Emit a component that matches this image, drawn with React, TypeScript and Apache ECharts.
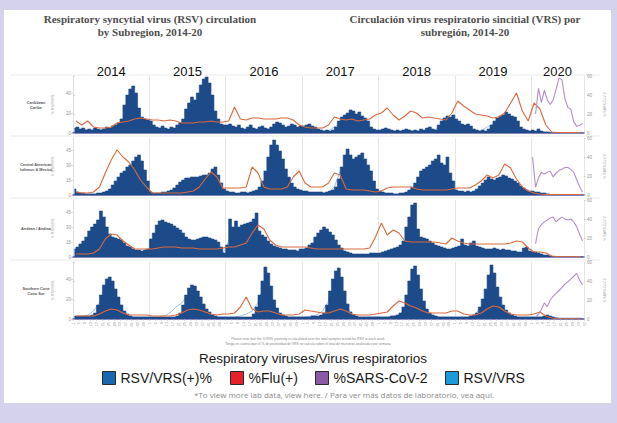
import React, { useEffect, useRef } from 'react';
import * as echarts from 'echarts';

// ---- labels ----
const years = ['2014', '2015', '2016', '2017', '2018', '2019', '2020'];
const yearMidWeeks = [26, 78, 130, 182, 234, 286, 330];
const subregions = ['Caribbean\nCaribe', 'Central American\nIsthmus & Mexico', 'Andean / Andina', 'Southern Cone\nCono Sur'];

// ---- RSV % positivity, two-week bins, 2014 week 1 .. 2020 week 36 ----
const rsvCaribbean = [
  5, 6, 4, 5, 3, 4, 3, 5, 4, 3, 4, 6, 5, 7, 8, 10, 14, 28, 38, 44, 47, 40, 25, 16, 14, 13,
  12, 8, 6, 5, 7, 5, 4, 6, 5, 8, 10, 14, 24, 30, 36, 33, 40, 48, 54, 56, 50, 38, 22, 14, 9, 8,
  8, 9, 7, 6, 8, 5, 4, 6, 8, 5, 4, 6, 7, 5, 4, 6, 9, 11, 10, 8, 6, 7, 9, 8, 6, 7,
  7, 8, 9, 7, 6, 4, 3, 2, 3, 2, 3, 6, 12, 16, 18, 20, 23, 22, 19, 21, 17, 15, 12, 6, 4, 3,
  3, 4, 5, 4, 3, 2, 3, 2, 3, 4, 3, 2, 3, 2, 4, 3, 5, 6, 4, 3, 8, 12, 15, 17, 16, 18,
  14, 12, 9, 8, 9, 7, 4, 3, 2, 3, 2, 4, 8, 12, 15, 17, 18, 21, 19, 17, 16, 12, 6, 4, 3, 2,
  3, 2, 4, 2, 1, 1, 0.5, 0.5, 0.3, 0.2, 0.2, 0.2, 0.2, 0.2, 0.1, 0.1, 0.1, 0.1,
];
const rsvCentral = [
  6, 3, 2, 2, 1, 1, 1, 1, 2, 2, 3, 4, 6, 10, 14, 18, 22, 24, 28, 30, 34, 38, 40, 34, 25, 14,
  3, 2, 2, 2, 3, 3, 4, 5, 7, 10, 13, 15, 17, 17, 18, 18, 18, 19, 20, 20, 22, 26, 28, 20, 12, 6,
  4, 3, 3, 2, 2, 3, 3, 2, 3, 4, 5, 8, 14, 24, 38, 50, 55, 50, 44, 36, 26, 18, 12, 8, 6, 5,
  4, 4, 3, 3, 3, 3, 3, 2, 3, 4, 5, 8, 16, 28, 40, 46, 40, 36, 38, 40, 42, 36, 30, 24, 14, 6,
  4, 3, 2, 2, 2, 1, 1, 2, 2, 3, 5, 8, 12, 18, 24, 26, 28, 30, 34, 36, 40, 32, 30, 38, 22, 14,
  5, 4, 4, 3, 4, 3, 4, 6, 9, 12, 15, 18, 16, 15, 17, 18, 20, 19, 17, 16, 14, 12, 9, 7, 5, 4,
  4, 3, 3, 2, 2, 1, 0.5, 0.3, 0.2, 0.1, 0.1, 0.1, 0.1, 0.1, 0.1, 0.1, 0.1, 0.1,
];
const rsvAndean = [
  8, 10, 13, 16, 20, 26, 30, 33, 37, 46, 40, 30, 23, 20, 19, 18, 17, 14, 11, 10, 8, 7, 7, 6, 7, 8,
  18, 24, 32, 36, 37, 35, 34, 33, 31, 29, 27, 24, 20, 18, 17, 17, 18, 19, 20, 20, 19, 18, 17, 15, 10, 4,
  12, 38, 30, 36, 30, 32, 33, 34, 35, 38, 44, 26, 22, 20, 16, 13, 11, 10, 9, 8, 8, 7, 7, 7, 6, 8,
  8, 9, 12, 14, 20, 24, 27, 30, 28, 25, 22, 17, 12, 9, 6, 5, 4, 3, 3, 3, 3, 3, 3, 4, 4, 4,
  4, 5, 6, 7, 8, 9, 10, 12, 16, 30, 40, 52, 54, 28, 20, 19, 18, 16, 14, 12, 11, 10, 9, 8, 8, 9,
  10, 11, 18, 12, 11, 14, 16, 11, 10, 9, 8, 8, 8, 9, 8, 7, 8, 7, 7, 6, 6, 5, 5, 9, 10, 6,
  5, 5, 4, 3, 2, 2, 1, 0.5, 0.5, 0.3, 0.2, 0.2, 0.2, 0.2, 0.2, 0.2, 0.2, 0.2,
];
const rsvSouthern = [
  3, 3, 3, 3, 3, 3, 4, 6, 14, 24, 34, 40, 42, 38, 30, 22, 14, 8, 5, 3, 2, 2, 2, 2, 2, 2,
  2, 2, 2, 2, 2, 2, 2, 2, 2, 3, 6, 14, 24, 31, 34, 33, 28, 22, 15, 10, 7, 4, 3, 2, 2, 2,
  2, 2, 2, 2, 2, 2, 2, 2, 2, 5, 12, 24, 38, 52, 46, 33, 19, 11, 6, 4, 3, 2, 2, 2, 2, 2,
  2, 2, 2, 3, 3, 3, 4, 6, 14, 28, 40, 48, 51, 42, 28, 15, 7, 4, 3, 2, 2, 2, 2, 2, 2, 2,
  2, 2, 2, 2, 3, 3, 4, 6, 12, 24, 38, 50, 53, 44, 30, 18, 10, 6, 4, 3, 2, 2, 2, 2, 2, 2,
  2, 2, 2, 2, 2, 3, 4, 6, 12, 20, 30, 44, 54, 46, 32, 22, 14, 9, 6, 4, 3, 2, 2, 2, 2, 2,
  2, 2, 2, 2, 3, 4, 3, 2, 1, 0.5, 0.3, 0.2, 0.2, 0.2, 0.2, 0.2, 0.2, 0.2,
];

// ---- % Flu positivity, four-week bins ----
const fluCaribbean = [
  12, 8, 12, 6, 5, 5, 6, 10, 11, 12, 14, 15, 14,
  13, 13, 12, 13, 12, 10, 10, 10, 11, 11, 12, 11, 11,
  12, 26, 14, 13, 15, 15, 14, 14, 14, 15, 15, 13, 8,
  6, 5, 5, 5, 8, 16, 14, 13, 14, 12, 13, 14, 18,
  20, 25, 18, 13, 17, 22, 20, 15, 16, 15, 14, 13, 20,
  32, 27, 23, 19, 18, 17, 15, 16, 20, 30, 40, 22, 12,
  30, 24, 8, 1, 0.5, 0.5, 0.5, 0.5, 0.3,
];
const fluCentral = [
  3, 2, 2, 3, 8, 22, 35, 45, 38, 33, 25, 15, 8,
  2, 2, 2, 2, 2, 2, 3, 4, 8, 16, 23, 18, 7,
  7, 7, 7, 8, 28, 22, 8, 6, 6, 6, 8, 18, 24,
  12, 8, 8, 8, 12, 22, 20, 6, 5, 5, 5, 4, 3,
  4, 7, 8, 8, 8, 8, 6, 5, 5, 5, 5, 5, 6,
  7, 7, 7, 10, 14, 20, 17, 20, 31, 27, 16, 8, 4,
  2, 1, 0.5, 0.5, 0.5, 0.5, 0.5, 0.5, 0.5,
];
const fluAndean = [
  3, 3, 3, 4, 8, 18, 23, 22, 16, 12, 8, 8, 8,
  8, 9, 10, 10, 10, 9, 9, 9, 8, 8, 8, 8, 9,
  10, 10, 12, 14, 24, 32, 28, 17, 12, 10, 10, 10, 10,
  10, 9, 8, 8, 8, 8, 8, 8, 8, 8, 8, 9, 20,
  34, 22, 27, 24, 16, 15, 15, 15, 15, 15, 14, 13, 19,
  16, 14, 13, 13, 13, 13, 13, 13, 13, 14, 16, 15, 9,
  5, 5, 4, 1, 0.5, 0.3, 0.3, 0.3, 0.3,
];
const fluSouthern = [
  3, 3, 3, 3, 5, 8, 10, 9, 6, 4, 4, 4, 4,
  3, 3, 3, 3, 4, 6, 9, 10, 9, 7, 5, 4, 5,
  5, 6, 12, 22, 10, 7, 8, 8, 6, 4, 4, 4, 5,
  9, 8, 7, 6, 6, 8, 10, 8, 5, 4, 4, 4, 5,
  6, 7, 13, 18, 16, 13, 11, 8, 6, 6, 6, 6, 8,
  8, 5, 4, 4, 6, 10, 13, 12, 8, 5, 4, 4, 4,
  5, 7, 3, 1, 0.5, 0.3, 0.3, 0.3, 0.3,
];

// ---- % SARS-CoV-2, two-week bins of 2020 ----
const sarsCaribbean = [null, 20, 47, 32, 45, 35, 30, 35, 46, 58, 56, 36, 27, 25, 12, 7, 8, 10];
const sarsCentral = [40, 8, 18, 24, 22, 24, 25, 19, 23, 26, 27, 29, 29, 27, 24, 16, 9, 3];
const sarsAndean = [null, 14, 30, 34, 37, 39, 41, 42, 37, 40, 42, 40, 39, 40, 37, 32, 24, 17];
const sarsSouthern = [null, 2, 5, 10, 17, 13, 20, 24, 27, 30, 33, 37, 39, 42, 45, 48, 41, 36];

// ---- RSV/VRS samples, four-week bins ----
const countCaribbean = [
  3, 3, 3, 3, 3, 4, 5, 7, 12, 24, 30, 10, 6,
  4, 3, 3, 3, 4, 6, 14, 18, 30, 34, 14, 5, 4,
  4, 3, 3, 3, 3, 3, 3, 4, 5, 6, 4, 4, 4,
  4, 3, 2, 2, 2, 6, 10, 12, 11, 8, 5, 3, 2,
  2, 2, 2, 2, 2, 2, 2, 2, 3, 3, 6, 8, 10,
  8, 5, 4, 2, 2, 6, 9, 12, 10, 8, 3, 2, 2,
  1, 1, 1, 0.5, 0.5, 0.3, 0.3, 0.3, 0.3,
];
const countCentral = [
  2, 1, 1, 1, 1, 2, 5, 10, 15, 18, 22, 20, 8,
  1, 1, 1, 2, 3, 8, 10, 11, 11, 12, 14, 10, 4,
  2, 1, 1, 2, 2, 3, 8, 28, 32, 20, 8, 4, 3,
  2, 2, 2, 2, 3, 8, 24, 22, 22, 22, 15, 8, 3,
  2, 1, 1, 1, 2, 4, 10, 16, 18, 22, 20, 18, 8,
  3, 2, 2, 4, 8, 10, 10, 11, 10, 8, 5, 3, 2,
  2, 1, 1, 0.5, 0.3, 0.3, 0.3, 0.3, 0.3,
];
const countAndean = [
  6, 10, 14, 20, 24, 18, 12, 10, 8, 5, 4, 4, 4,
  12, 20, 22, 20, 18, 14, 10, 10, 11, 11, 10, 8, 3,
  16, 20, 18, 20, 22, 20, 12, 7, 5, 4, 4, 4, 4,
  6, 8, 14, 18, 16, 10, 4, 2, 2, 2, 2, 2, 2,
  3, 4, 5, 6, 10, 28, 14, 10, 8, 6, 5, 4, 4,
  6, 8, 8, 6, 5, 4, 4, 4, 4, 3, 3, 4, 3,
  3, 2, 1, 0.5, 0.3, 0.3, 0.3, 0.3, 0.3,
];
const countSouthern = [
  2, 2, 4, 8, 16, 26, 30, 20, 8, 3, 2, 2, 2,
  2, 2, 3, 6, 12, 16, 24, 26, 14, 6, 3, 2, 2,
  2, 2, 3, 5, 8, 16, 34, 30, 10, 4, 2, 2, 2,
  2, 3, 4, 8, 18, 34, 36, 14, 4, 2, 2, 2, 2,
  2, 2, 3, 4, 10, 30, 38, 16, 5, 3, 2, 2, 2,
  2, 2, 2, 5, 12, 26, 36, 18, 6, 3, 2, 2, 2,
  2, 2, 2, 2, 1, 1, 1, 1, 1,
];

const rsvPanels = [rsvCaribbean, rsvCentral, rsvAndean, rsvSouthern];
const fluPanels = [fluCaribbean, fluCentral, fluAndean, fluSouthern];
const sarsPanels = [sarsCaribbean, sarsCentral, sarsAndean, sarsSouthern];
const countPanels = [countCaribbean, countCentral, countAndean, countSouthern];

const WEEKS = 348;
const gridTops = [76, 138, 200, 262];
const GRID_H = 57;
const leftIntervals = [20, 15, 15, 20];

const toPairs = (arr: (number | null)[], step: number, offset: number) =>
  arr
    .map((v, i) => [offset + i * step + step / 2, v])
    .filter((p) => p[1] !== null);

const C_RSV = '#1d4a88';
const C_FLU = '#d9693e';
const C_SARS = '#b48fc6';
const C_COUNT = '#9fbfe2';
const SANS = '"Liberation Sans", Arial, sans-serif';
const SERIF = '"Liberation Serif", "Times New Roman", serif';

export default function App() {
  const ref = useRef<HTMLDivElement>(null);
  useEffect(() => {
    if (!ref.current) return;
    const chart = echarts.init(ref.current, undefined, { renderer: 'svg' });

    const splitAxis = (gi: number, position: string, showLine: boolean) => ({
      gridIndex: gi,
      type: 'value',
      min: 0,
      max: WEEKS,
      interval: 52,
      position,
      axisLine: { show: showLine, lineStyle: { color: '#5b5ea6', width: 1.5 } },
      axisTick: { show: false },
      axisLabel: { show: false },
      splitLine: { show: true, lineStyle: { color: '#dedede', width: 0.8 } },
    });

    const xAxis: any[] = [
      splitAxis(0, 'bottom', true),
      splitAxis(1, 'bottom', true),
      splitAxis(2, 'bottom', true),
      splitAxis(3, 'top', false),
      {
        gridIndex: 0,
        type: 'value',
        min: 0,
        max: WEEKS,
        position: 'top',
        axisLine: { show: false },
        axisTick: { show: false },
        splitLine: { show: false },
        axisLabel: {
          customValues: yearMidWeeks,
          formatter: (v: number) => years[Math.floor(v / 52)],
          fontSize: 13,
          fontFamily: SANS,
          color: '#111',
          margin: -2,
        },
      },
      {
        gridIndex: 3,
        type: 'value',
        min: 0,
        max: WEEKS,
        interval: 4,
        position: 'bottom',
        axisLine: { show: true, lineStyle: { color: '#5b5ea6', width: 1.5 } },
        axisTick: { show: true, length: 2, lineStyle: { color: '#bbb', width: 0.5 } },
        splitLine: { show: false },
        axisLabel: {
          fontSize: 4,
          rotate: 90,
          margin: 3,
          color: '#999',
          fontFamily: SANS,
          formatter: (v: number) => String((v % 52) + 1),
        },
      },
    ];

    const yAxis: any[] = [
      ...gridTops.map((_, i) => ({
        gridIndex: i,
        type: 'value',
        min: 0,
        max: GRID_H,
        interval: leftIntervals[i],
        position: 'left',
        name: '% RSV/VRS',
        nameLocation: 'middle',
        nameGap: 13,
        nameTextStyle: { fontSize: 3.5, color: '#999', fontFamily: SANS },
        axisLine: { show: true, lineStyle: { color: '#dcdcdc', width: 0.8 } },
        axisTick: { show: true, length: 2, lineStyle: { color: '#bbb', width: 0.5 } },
        axisLabel: { fontSize: 4.5, color: '#999', margin: 2, showMaxLabel: false, fontFamily: SANS },
        splitLine: { show: false },
      })),
      ...gridTops.map((_, i) => ({
        gridIndex: i,
        type: 'value',
        min: 0,
        max: 60,
        interval: 20,
        position: 'right',
        name: '% SARS-CoV-2',
        nameLocation: 'middle',
        nameGap: 13,
        nameTextStyle: { fontSize: 3.5, color: '#999', fontFamily: SANS },
        axisLine: { show: false },
        axisTick: { show: true, length: 2, lineStyle: { color: '#bbb', width: 0.5 } },
        axisLabel: { fontSize: 4.5, color: '#999', margin: 3, fontFamily: SANS },
        splitLine: { show: false },
      })),
    ];

    const series: any[] = [];
    for (let i = 0; i < 4; i++) {
      series.push({
        name: 'RSV/VRS',
        type: 'line',
        xAxisIndex: i,
        yAxisIndex: i,
        data: toPairs(countPanels[i], 4, 0),
        symbol: 'none',
        lineStyle: { color: C_COUNT, width: 1 },
        itemStyle: { color: C_COUNT },
        z: 1,
      });
      series.push({
        name: 'RSV/VRS(+)%',
        type: 'line',
        step: 'middle',
        xAxisIndex: i,
        yAxisIndex: i,
        data: toPairs(rsvPanels[i], 2, 0),
        symbol: 'none',
        lineStyle: { color: C_RSV, width: 0.6 },
        areaStyle: { color: C_RSV, opacity: 1 },
        itemStyle: { color: C_RSV },
        z: 2,
      });
      series.push({
        name: '%Flu(+)',
        type: 'line',
        xAxisIndex: i,
        yAxisIndex: i,
        data: toPairs(fluPanels[i], 4, 0),
        symbol: 'none',
        lineStyle: { color: C_FLU, width: 1.1 },
        itemStyle: { color: C_FLU },
        z: 3,
      });
      series.push({
        name: '%SARS-CoV-2',
        type: 'line',
        xAxisIndex: i,
        yAxisIndex: 4 + i,
        data: toPairs(sarsPanels[i], 2, 312),
        symbol: 'none',
        lineStyle: { color: C_SARS, width: 1.1 },
        itemStyle: { color: C_SARS },
        z: 3,
      });
    }

    const legendCommon = {
      orient: 'horizontal',
      top: 371,
      padding: 0,
      icon: 'rect',
      itemWidth: 13,
      itemHeight: 13,
      itemGap: 5,
      selectedMode: false,
      textStyle: { fontSize: 14, color: '#1a1a1a', fontFamily: SANS },
    };
    const legendItems = [
      { name: 'RSV/VRS(+)%', color: '#1967b3', left: 102 },
      { name: '%Flu(+)', color: '#e8202a', left: 230 },
      { name: '%SARS-CoV-2', color: '#8a5aa5', left: 315 },
      { name: 'RSV/VRS', color: '#1d9ad8', left: 445 },
    ];

    const graphic: any[] = [
      { type: 'rect', z: -100, shape: { x: 4, y: 10, width: 607, height: 393 }, style: { fill: '#ffffff' } },
      ...[75, 136, 198, 260].map((y) => ({
        type: 'line',
        z: -50,
        shape: { x1: 10, y1: y, x2: 600, y2: y },
        style: { stroke: '#e4e4e4', lineWidth: 0.8 },
      })),
      {
        type: 'text', x: 150, y: 25,
        style: {
          text: 'Respiratory syncytial virus (RSV) circulation\nby Subregion, 2014-20',
          fill: '#4d4d4d', font: 'bold 11px ' + SERIF, lineHeight: 13,
          textAlign: 'center', textVerticalAlign: 'middle',
        },
      },
      {
        type: 'text', x: 465, y: 25,
        style: {
          text: 'Circulación virus respiratorio sincitial (VRS) por\nsubregión, 2014-20',
          fill: '#4d4d4d', font: 'bold 11px ' + SERIF, lineHeight: 13,
          textAlign: 'center', textVerticalAlign: 'middle',
        },
      },
      ...subregions.map((s, i) => ({
        type: 'text', x: 36, y: gridTops[i] + 29,
        style: {
          text: s, fill: '#555', font: 'bold 3.8px ' + SANS, lineHeight: 5,
          textAlign: 'center', textVerticalAlign: 'middle',
        },
      })),
      {
        type: 'text', x: 308, y: 341.5,
        style: {
          text: 'Please note that the % RSV positivity is calculated over the total samples tested for RSV in each week\nTenga en cuenta que el % de positividad de VRS se calcula sobre el total de muestras analizadas por semana',
          fill: '#888', font: '3.4px ' + SANS, lineHeight: 5,
          textAlign: 'center', textVerticalAlign: 'middle',
        },
      },
      {
        type: 'text', x: 313, y: 358,
        style: {
          text: 'Respiratory viruses/Virus respiratorios',
          fill: '#1a1a1a', font: '13.5px ' + SANS,
          textAlign: 'center', textVerticalAlign: 'middle',
        },
      },
      {
        type: 'text', x: 344, y: 394,
        style: {
          text: '*To view more lab data, view here. / Para ver más datos de laboratorio, vea aquí.',
          fill: '#8a8a8a', font: '8px "Open Sans", ' + SANS,
          textAlign: 'center', textVerticalAlign: 'middle',
        },
      },
    ];

    chart.setOption({
      animation: false,
      backgroundColor: '#d5d2eb',
      grid: gridTops.map((t) => ({ left: 73, right: 33, top: t, height: GRID_H })),
      xAxis,
      yAxis,
      series,
      legend: legendItems.map((it) => ({
        ...legendCommon,
        left: it.left,
        data: [{ name: it.name, itemStyle: { color: it.color, borderColor: '#2a2a2a', borderWidth: 1 } }],
      })),
      graphic,
    });

    return () => chart.dispose();
  }, []);

  return <div ref={ref} style={{ position: 'fixed', left: 0, top: 0, width: 617, height: 423 }} />;
}
